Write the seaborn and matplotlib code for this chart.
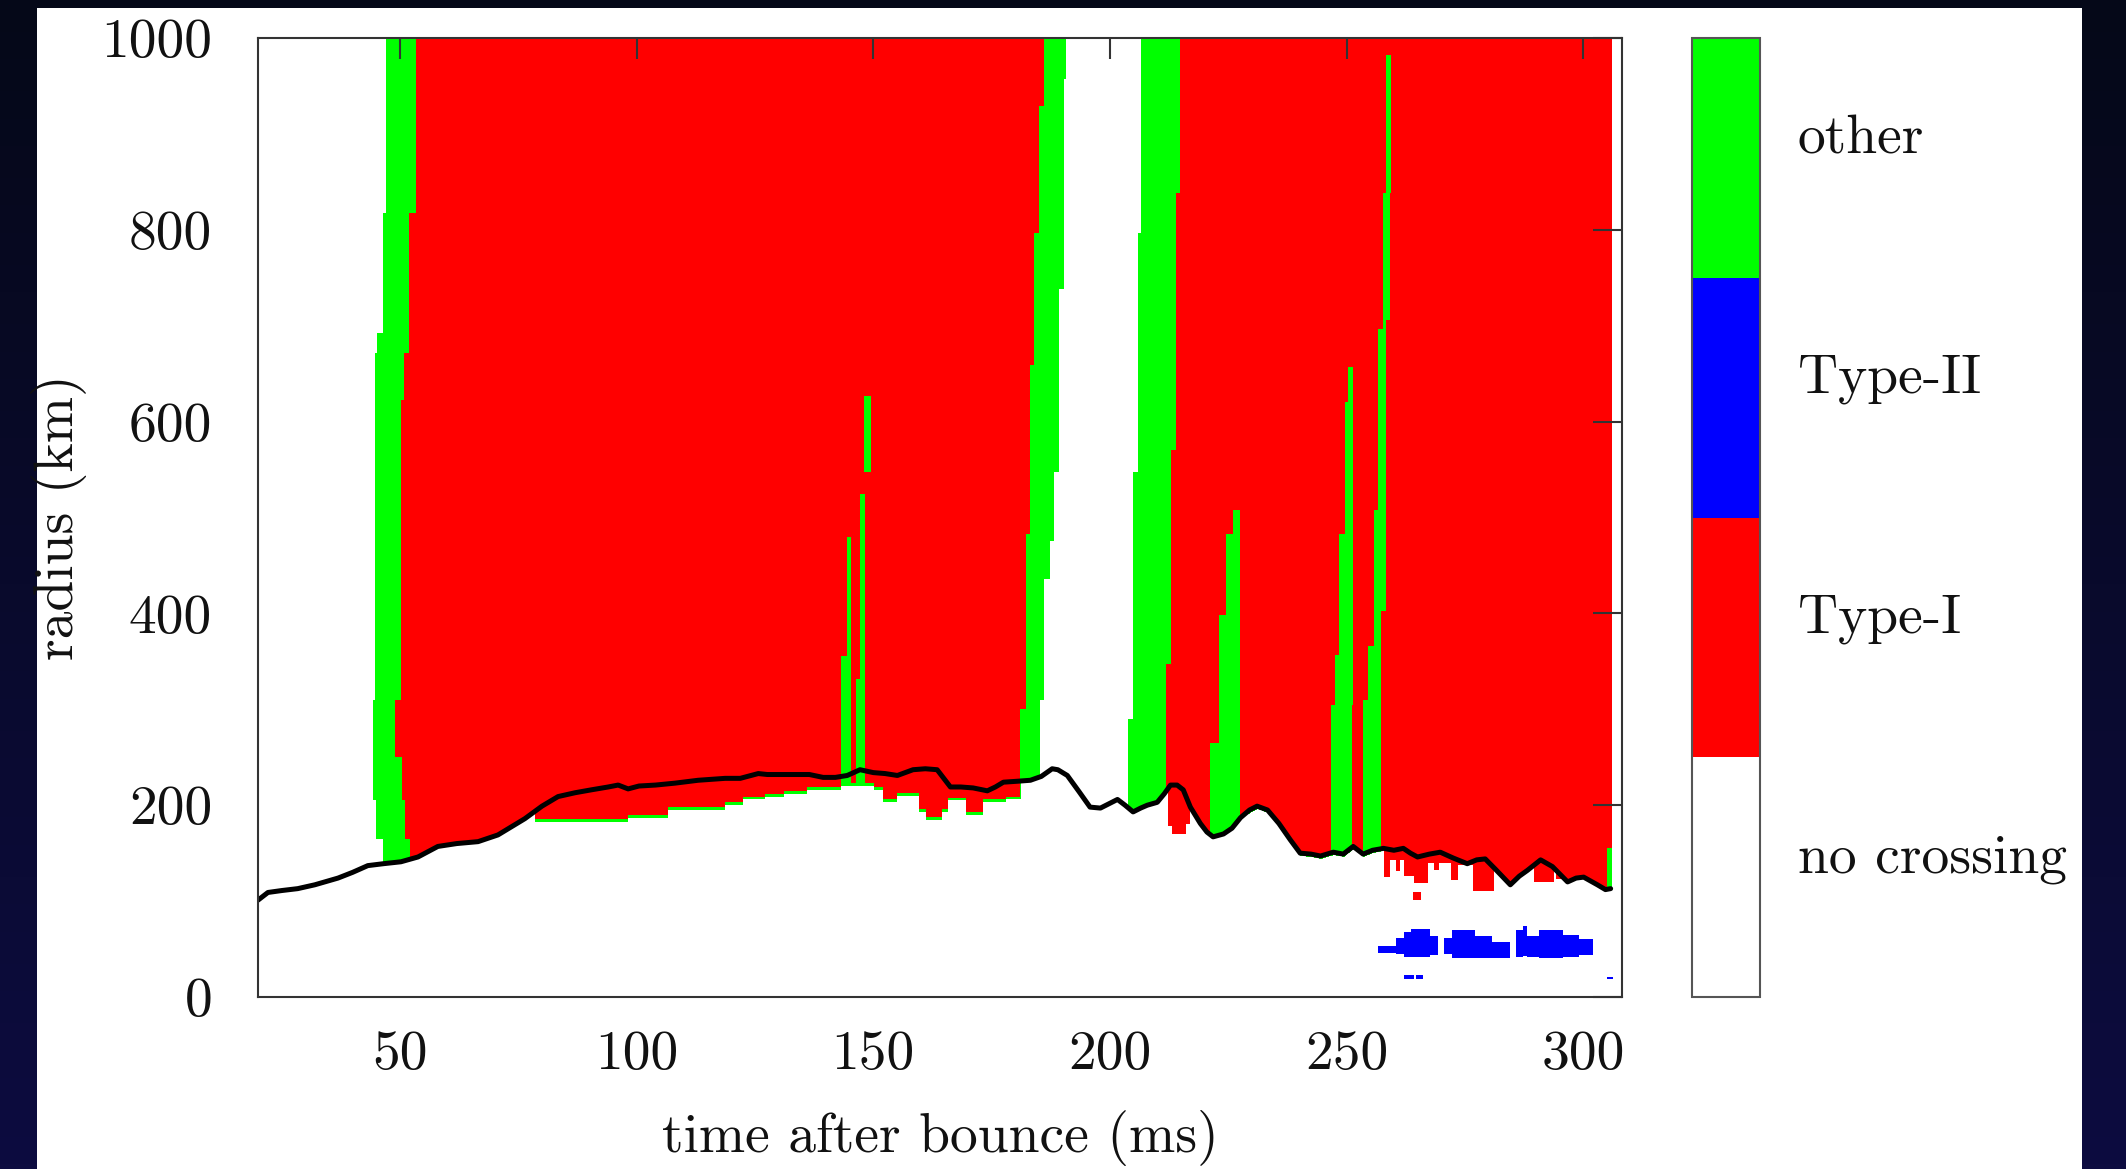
import numpy as np
import matplotlib
matplotlib.use("Agg")
import matplotlib.pyplot as plt
from matplotlib.colors import ListedColormap, BoundaryNorm
from matplotlib.patches import Rectangle
from matplotlib.cm import ScalarMappable
import seaborn as sns

# ---------------- data ----------------
categories = ["no crossing", "Type-I", "Type-II", "other"]
category_colors = ["#ffffff", "#ff0000", "#0000ff", "#00ff00"]

x_ticks = [50, 100, 150, 200, 250, 300]
y_ticks = [0, 200, 400, 600, 800, 1000]
t_range = (20.0, 308.2)
r_range = (0.0, 1000.0)

# shock radius (black line)
shock_t = [20.0, 22.1, 25.0, 28.4, 32.0, 36.9, 40.0, 43.2, 46.5, 50.2, 53.8, 58.0, 62.0,
           66.5, 70.7, 76.4, 80.0, 83.4, 87.0, 90.4, 94.0, 96.1, 98.2, 100.5, 104.0,
           108.1, 113.0, 118.7, 121.9, 125.7, 127.6, 130.5, 133.9, 136.5, 139.4, 142.0,
           144.5, 147.2, 150.0, 152.5, 155.1, 158.4, 161.0, 163.5, 166.3, 168.5, 171.1,
           174.1, 175.8, 177.5, 180.5, 183.2, 185.5, 187.8, 189.0, 191.0, 193.5, 195.8,
           198.0, 200.0, 201.6, 203.2, 204.9, 206.5, 207.9, 210.0, 211.5, 212.8, 214.2,
           215.5, 217.0, 219.1, 220.5, 221.8, 224.0, 225.8, 227.6, 229.5, 231.1, 233.3,
           235.7, 238.1, 240.2, 242.5, 244.5, 247.2, 249.3, 251.4, 253.5, 255.5, 257.8,
           260.0, 262.0, 263.5, 265.0, 267.5, 269.8, 272.5, 275.5, 277.5, 279.3, 281.5,
           284.6, 286.5, 288.2, 291.0, 293.5, 296.7, 298.5, 300.1, 303.0, 304.7, 305.8]
shock_r = [101, 109, 111, 113, 117, 124, 130, 137, 139, 141, 146, 157, 160,
           162, 169, 186, 199, 209, 213, 216, 219, 221, 217, 220, 221,
           223, 226, 228, 228, 233, 232, 232, 232, 232, 229, 229,
           231, 237, 234, 233, 231, 237, 238, 237, 219, 219, 218,
           215, 219, 224, 225, 226, 230, 238, 237, 231, 214, 198,
           197, 202, 206, 200, 193, 197, 200, 203, 212, 221, 221,
           216, 198, 181, 172, 167, 170, 176, 187, 195, 199, 195,
           181, 164, 150, 149, 147, 151, 149, 157, 149, 153, 155,
           153, 155, 150, 146, 149, 151, 145, 139, 143, 144, 133,
           117, 126, 132, 143, 136, 120, 124, 125, 117, 112, 113]

# "other" bands: (r_low, r_high, t_left, t_right)
other_band_1 = [(0, 165, 46.4, 52.0), (165, 205, 45.0, 51.0), (205, 250, 44.3, 50.3),
                (250, 310, 44.3, 48.9), (310, 623, 44.6, 50.2), (623, 672, 44.7, 50.8),
                (672, 692, 45.1, 51.8), (692, 817, 46.4, 51.8), (817, 1000, 47.1, 53.3)]
other_band_2 = [(0, 300, 180.9, 185.1), (300, 310, 182.1, 185.1), (310, 436, 182.1, 186.0),
                (436, 476, 182.1, 187.2), (476, 483, 182.1, 188.0), (483, 547, 183.0, 188.0),
                (547, 659, 183.0, 189.1), (659, 738, 183.9, 189.1), (738, 797, 183.9, 190.2),
                (797, 929, 184.9, 190.2), (929, 957, 186.0, 190.2), (957, 1000, 186.0, 190.6)]
other_band_3 = [(0, 290, 203.6, 211.7), (290, 347, 204.7, 211.7), (347, 547, 204.7, 212.8),
                (547, 570, 205.7, 212.8), (570, 797, 205.7, 213.8), (797, 838, 206.4, 213.8),
                (838, 1000, 206.4, 214.7)]
other_spikes = [(0, 356, 143.0, 145.3), (356, 480, 144.4, 145.3),
                (0, 332, 146.2, 148.1), (332, 525, 147.1, 148.1), (547, 627, 147.9, 149.5),
                (0, 265, 220.9, 227.4), (265, 398, 223.0, 227.4), (398, 483, 224.4, 227.4),
                (483, 508, 225.8, 227.4),
                (0, 305, 246.6, 250.9), (305, 357, 247.3, 251.2), (357, 483, 248.3, 251.2),
                (483, 620, 249.5, 251.2), (620, 657, 250.2, 251.2),
                (0, 310, 253.4, 257.1), (310, 366, 254.3, 257.1), (366, 403, 255.6, 257.1),
                (403, 508, 255.6, 258.2), (508, 697, 256.4, 258.2), (697, 706, 257.5, 258.2),
                (706, 838, 257.5, 259.1), (838, 982, 258.2, 259.3),
                (0, 155, 304.9, 305.8)]
colored_end = 305.8

# crossing region reaching below the shock: t0, t1, lowest radius
below_t0 = [78.5, 98.2, 106.6, 118.7, 122.3, 127.0, 131.0, 136.0, 143.0, 150.0, 152.0, 155.0,
            159.5, 161.0, 164.5, 165.7, 169.5, 173.0, 178.0, 212.1, 213.0, 216.0, 257.8,
            259.1, 260.3, 261.2, 261.9, 264.1, 267.1, 268.4, 269.4, 271.9, 273.4, 276.6,
            289.5, 294.0]
below_t1 = [98.2, 106.6, 118.7, 122.3, 127.0, 131.0, 136.0, 143.0, 150.0, 152.0, 155.0, 159.5,
            161.0, 164.5, 165.7, 169.5, 173.0, 178.0, 181.0, 213.0, 216.0, 216.8, 259.1,
            260.3, 261.2, 261.9, 264.1, 267.1, 268.4, 269.4, 271.9, 273.4, 276.6, 281.0,
            293.7, 298.0]
below_r = [186, 190, 198, 203, 209, 212, 215, 219, 223, 219, 206, 213,
           196, 188, 196, 208, 193, 206, 209, 178, 170, 180, 125,
           143, 131, 143, 126, 119, 140, 132, 140, 122, 138, 111,
           120, 123]

# thin "other" fringe at the inner boundary
fringe_t0 = [78.5, 229.0]
fringe_t1 = [181.0, 257.0]
fringe_width = 3.0

# isolated Type-I patch: (t0, t1, r0, r1)
typeI_patches = [(263.8, 265.5, 101, 109)]

# Type-II regions: (t0, t1, r0, r1)
typeII_patches = [(256.4, 260.3, 46, 53), (260.3, 262.0, 45, 62), (262.0, 263.5, 42, 68),
                  (263.5, 267.5, 42, 71), (267.5, 269.1, 44, 64), (270.5, 272.0, 45, 62),
                  (272.0, 277.0, 41, 70), (277.0, 280.5, 41, 64), (280.5, 284.3, 41, 57),
                  (285.7, 287.0, 42, 70), (287.0, 288.0, 43, 74), (288.0, 290.5, 42, 64),
                  (290.5, 295.5, 41, 70), (295.5, 299.0, 42, 65), (299.0, 301.9, 44, 60),
                  (262.0, 264.0, 19, 23), (264.5, 266.0, 19, 23), (304.9, 306.0, 19, 21)]

# ---------------- build the category map ----------------
dt, dr = 0.1, 1.0
T = np.arange(t_range[0] + dt / 2, t_range[1], dt)
R = np.arange(r_range[0] + dr / 2, r_range[1], dr)
TT, RR = np.meshgrid(T, R)
grid = np.ones(TT.shape, dtype=int)


def band_edges(steps):
    tl = np.full(R.shape, np.nan)
    tr = np.full(R.shape, np.nan)
    for r0, r1, a, b in steps:
        m = (R >= r0) & (R < r1)
        tl[m] = a
        tr[m] = b
    return tl[:, None], tr[:, None]


l1, q1 = band_edges(other_band_1)
l2, q2 = band_edges(other_band_2)
l3, q3 = band_edges(other_band_3)
grid[TT < l1] = 0
grid[(TT >= l1) & (TT < q1)] = 3
grid[(TT >= l2) & (TT < q2)] = 3
grid[(TT >= q2) & (TT < l3)] = 0
grid[(TT >= l3) & (TT < q3)] = 3
for r0, r1, a, b in other_spikes:
    grid[(RR >= r0) & (RR < r1) & (TT >= a) & (TT < b)] = 3
grid[TT >= colored_end] = 0

edge = np.interp(T, shock_t, shock_r)
for a, b, rb in zip(below_t0, below_t1, below_r):
    m = (T >= a) & (T < b)
    edge[m] = np.minimum(edge[m], rb)
grid[RR < edge[None, :]] = 0
for a, b in zip(fringe_t0, fringe_t1):
    m = (TT >= a) & (TT < b) & (RR < edge[None, :]) & (RR >= edge[None, :] - fringe_width)
    grid[m] = 3
for a, b, r0, r1 in typeI_patches:
    grid[(TT >= a) & (TT < b) & (RR >= r0) & (RR < r1)] = 1
for a, b, r0, r1 in typeII_patches:
    grid[(TT >= a) & (TT < b) & (RR >= r0) & (RR < r1)] = 2

# ---------------- figure ----------------
sns.set_theme(style="white")
plt.rcParams["font.family"] = ["cmr10", "DejaVu Serif"]
plt.rcParams["axes.formatter.use_mathtext"] = True
plt.rcParams["mathtext.fontset"] = "cm"

W, H = 2126, 1169
fig = plt.figure(figsize=(W / 100, H / 100), dpi=100)
fig.patch.set_facecolor("#070a22")

# dark slide background + white panel
bg = fig.add_axes([0, 0, 1, 1], zorder=-10)
grad = np.linspace(0, 1, 256)[:, None]
top_c = np.array([5, 8, 24]) / 255.0
bot_c = np.array([13, 12, 64]) / 255.0
img = top_c[None, None, :] * (1 - grad[:, :, None]) + bot_c[None, None, :] * grad[:, :, None]
bg.imshow(img, aspect="auto", extent=[0, 1, 0, 1], origin="upper")
bg.set_xlim(0, 1)
bg.set_ylim(0, 1)
bg.axis("off")
panel = Rectangle((37 / W, 0), (2082 - 37) / W, 1 - 8 / H, transform=fig.transFigure,
                  facecolor="white", edgecolor="none", zorder=-5)
fig.add_artist(panel)

ax_l, ax_r, ax_t, ax_b = 258, 1622, 38, 997
ax = fig.add_axes([ax_l / W, 1 - ax_b / H, (ax_r - ax_l) / W, (ax_b - ax_t) / H])
cmap = ListedColormap(category_colors)
norm = BoundaryNorm([-0.5, 0.5, 1.5, 2.5, 3.5], cmap.N)
ax.imshow(grid, origin="lower", extent=[t_range[0], t_range[1], r_range[0], r_range[1]],
          aspect="auto", cmap=cmap, norm=norm, interpolation="nearest")
sns.lineplot(x=shock_t, y=shock_r, ax=ax, color="black", linewidth=3.6, sort=False,
             estimator=None)
ax.set_xlim(*t_range)
ax.set_ylim(*r_range)
ax.set_xticks(x_ticks)
ax.set_yticks(y_ticks)
ax.set_xticklabels([str(v) for v in x_ticks])
ax.set_yticklabels([str(v) for v in y_ticks])
ax.tick_params(axis="both", direction="in", top=True, right=True, labelsize=40,
               color="#333333", width=1.5, labelcolor="#111111")
ax.tick_params(axis="x", length=15, pad=24)
ax.tick_params(axis="y", length=21, pad=33)
for s in ax.spines.values():
    s.set_color("#333333")
    s.set_linewidth(1.5)
ax.set_xlabel("time after bounce (ms)", fontsize=40, color="#111111")
ax.set_ylabel("radius (km)", fontsize=40, color="#111111")
ax.xaxis.set_label_coords(0.5, -0.118)
ax.yaxis.set_label_coords(-0.125, 0.5)

cb_l, cb_r = 1692, 1760
cax = fig.add_axes([cb_l / W, 1 - ax_b / H, (cb_r - cb_l) / W, (ax_b - ax_t) / H])
sm = ScalarMappable(norm=norm, cmap=cmap)
cb = fig.colorbar(sm, cax=cax)
cb.ax.minorticks_off()
cb.set_ticks([0.1, 1.1, 2.1, 3.1])
cb.set_ticklabels(categories)
cb.ax.tick_params(which="both", length=0, labelsize=40, pad=27, labelcolor="#111111")
cb.outline.set_edgecolor("#555555")
cb.outline.set_linewidth(1.5)

fig.savefig("out.png", dpi=100)
